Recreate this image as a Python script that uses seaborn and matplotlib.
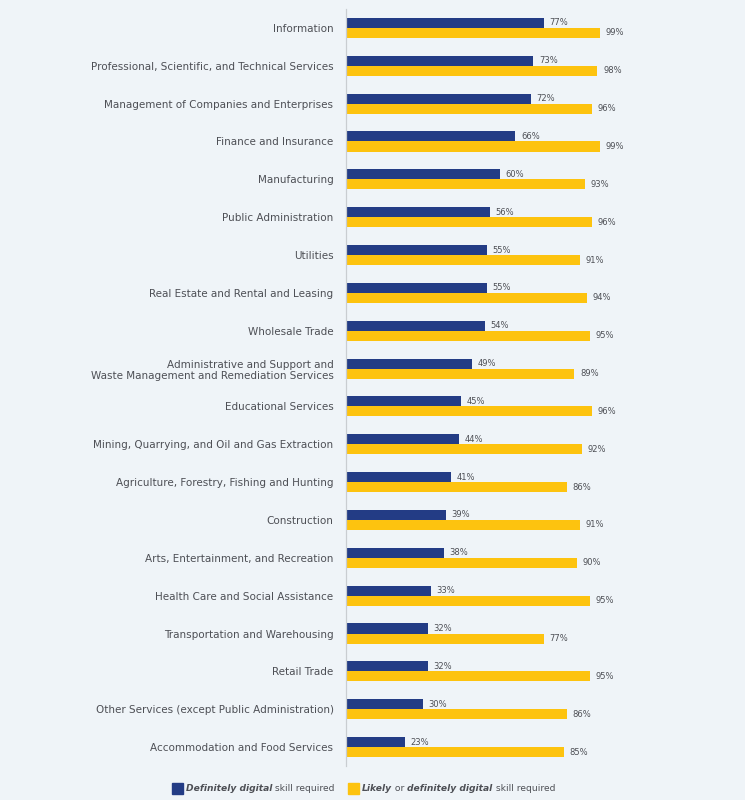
import pandas as pd
import seaborn as sns
import matplotlib.pyplot as plt
from matplotlib.patches import Rectangle

# Share of job postings per industry
industries = [
    "Information",
    "Professional, Scientific, and Technical Services",
    "Management of Companies and Enterprises",
    "Finance and Insurance",
    "Manufacturing",
    "Public Administration",
    "Utilities",
    "Real Estate and Rental and Leasing",
    "Wholesale Trade",
    "Administrative and Support and\nWaste Management and Remediation Services",
    "Educational Services",
    "Mining, Quarrying, and Oil and Gas Extraction",
    "Agriculture, Forestry, Fishing and Hunting",
    "Construction",
    "Arts, Entertainment, and Recreation",
    "Health Care and Social Assistance",
    "Transportation and Warehousing",
    "Retail Trade",
    "Other Services (except Public Administration)",
    "Accommodation and Food Services",
]
definitely = [77, 73, 72, 66, 60, 56, 55, 55, 54, 49, 45, 44, 41, 39, 38, 33, 32, 32, 30, 23]
likely_or_definitely = [99, 98, 96, 99, 93, 96, 91, 94, 95, 89, 96, 92, 86, 91, 90, 95, 77, 95, 86, 85]
series = ["Definitely", "Likely or definitely"]

navy = "#233c85"
yellow = "#fdc30f"
bg = "#eff4f8"
txt = "#4d4f55"

df = pd.concat([
    pd.DataFrame({"industry": industries, "pct": definitely, "series": series[0]}),
    pd.DataFrame({"industry": industries, "pct": likely_or_definitely, "series": series[1]}),
])

sns.set_theme(style="white")
plt.rcParams["font.family"] = ["DejaVu Sans"]

fig = plt.figure(figsize=(7.45, 8), dpi=100, facecolor=bg)
ax = fig.add_axes([346 / 745, 1 - 766 / 800, 256.6 / 745, 757 / 800])
ax.set_facecolor(bg)

sns.barplot(data=df, y="industry", x="pct", hue="series", orient="h",
            palette=[navy, yellow], width=0.53, ax=ax, legend=False,
            saturation=1, linewidth=0, edgecolor="none")

for cont in ax.containers:
    ax.bar_label(cont, labels=[f"{int(v)}%" for v in cont.datavalues],
                 padding=4, fontsize=6, color=txt, clip_on=False)

ax.set_xlim(0, 100)
ax.set_ylim(19.5, -0.5)
ax.set_xlabel("")
ax.set_ylabel("")
ax.set_xticks([])
ax.tick_params(axis="y", length=0, pad=9, labelsize=7.5, labelcolor=txt)
for lab in ax.get_yticklabels():
    lab.set_multialignment("right")
for s in ["top", "right", "bottom"]:
    ax.spines[s].set_visible(False)
ax.spines["left"].set_color("#c9cdd1")
ax.spines["left"].set_linewidth(0.9)

# Legend with mixed font styles
def legend_entry(x0, parts, color):
    fig.patches.append(Rectangle((x0 / 745, 1 - 794 / 800), 11 / 745, 11 / 800,
                                 transform=fig.transFigure, color=color))
    prev = None
    for text, bold in parts:
        kw = dict(fontsize=6.6, color=txt, va="bottom", ha="left",
                  fontweight="bold" if bold else "normal",
                  fontstyle="italic" if bold else "normal")
        if prev is None:
            prev = fig.text((x0 + 14) / 745, 1 - 793 / 800, text, **kw)
        else:
            prev = ax.annotate(text, xy=(1, 0), xycoords=prev, **kw)

legend_entry(172, [("Definitely digital", True), (" skill required", False)], navy)
legend_entry(348, [("Likely", True), (" or ", False), ("definitely digital", True),
                   (" skill required", False)], yellow)

plt.savefig("out.png", dpi=100, facecolor=bg)
